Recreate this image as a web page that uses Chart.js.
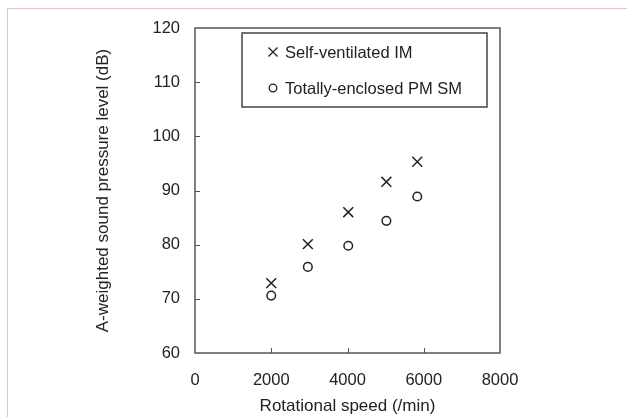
<!DOCTYPE html>
<html>
<head>
<meta charset="utf-8">
<script src="https://cdn.jsdelivr.net/npm/chart.js@4.4.0/dist/chart.umd.min.js"></script>
<style>
  html, body { margin: 0; padding: 0; overflow: hidden; background: #fff; }
  #frame { position: absolute; left: 7px; top: 8px; width: 640px; height: 430px; border: 1.5px solid #e6c2d0; }
  #chart { position: absolute; left: 0; top: 0; }
</style>
</head>
<body>
<div id="frame"></div>
<canvas id="chart" width="627" height="417"></canvas>
<script>
// rotational speed (/min) and sound pressure level (dB)
var speedIM = [2000, 2960, 4020, 5020, 5830];
var levelIM = [72.9, 80.1, 86.0, 91.6, 95.3];
var speedPM = [2000, 2960, 4020, 5020, 5830];
var levelPM = [70.6, 75.9, 79.8, 84.4, 88.9];
var seriesNames = ["Self-ventilated IM", "Totally-enclosed PM SM"];
var xTicks = [0, 2000, 4000, 6000, 8000];
var yTicks = [60, 70, 80, 90, 100, 110, 120];

var FONT = "'Liberation Sans', Arial, sans-serif";
var ink = "#222";

function toPoints(xs, ys) {
	var pts = [];
	for (var i = 0; i < xs.length; i++) {
		pts.push({ x : xs[i], y : ys[i] });
	}
	return pts;
}

// inward tick marks plus box border round the plot
var frameBox = {
	id : 'frameBox',
	afterDatasetsDraw : function(chart) {
		var ctx = chart.ctx;
		var a = chart.chartArea;
		var sx = chart.scales.x, sy = chart.scales.y;
		ctx.save();
		ctx.strokeStyle = "#555";
		ctx.lineWidth = 1.5;
		ctx.strokeRect(a.left, a.top, a.right - a.left, a.bottom - a.top);
		ctx.lineWidth = 1;
		ctx.beginPath();
		xTicks.slice(1, -1).forEach(function(v) {
			var px = Math.round(sx.getPixelForValue(v)) + 0.5;
			ctx.moveTo(px, a.bottom);
			ctx.lineTo(px, a.bottom - 5);
		});
		yTicks.slice(1, -1).forEach(function(v) {
			var py = Math.round(sy.getPixelForValue(v)) + 0.5;
			ctx.moveTo(a.left, py);
			ctx.lineTo(a.left + 5, py);
		});
		ctx.stroke();
		ctx.restore();
	}
};

// boxed legend inside the top right of the plot
var boxLegend = {
	id : 'boxLegend',
	afterDraw : function(chart) {
		var ctx = chart.ctx;
		var a = chart.chartArea;
		var left = a.left + 47, top = a.top + 5, right = a.right - 13, bottom = a.top + 79;
		ctx.save();
		ctx.strokeStyle = "#444";
		ctx.lineWidth = 1.5;
		ctx.strokeRect(left, top, right - left, bottom - top);
		ctx.font = "16.5px " + FONT;
		ctx.fillStyle = ink;
		ctx.textBaseline = "middle";
		var rows = [top + 19, top + 55];
		chart.data.datasets.forEach(function(ds, i) {
			var cx = left + 31, cy = rows[i];
			ctx.strokeStyle = ink;
			ctx.lineWidth = 1.3;
			ctx.beginPath();
			if (ds.pointStyle === 'crossRot') {
				ctx.moveTo(cx - 4.5, cy - 4.5); ctx.lineTo(cx + 4.5, cy + 4.5);
				ctx.moveTo(cx + 4.5, cy - 4.5); ctx.lineTo(cx - 4.5, cy + 4.5);
			} else {
				ctx.arc(cx, cy, 3.8, 0, Math.PI * 2);
			}
			ctx.stroke();
			ctx.fillText(ds.label, left + 43, cy + 1);
		});
		ctx.restore();
	}
};

var plainTick = function(value) { return String(value); };

var ctx = document.getElementById("chart");
var chart = new Chart(ctx, {
	type : 'scatter',
	data : {
		datasets : [ {
			label : seriesNames[0],
			data : toPoints(speedIM, levelIM),
			pointStyle : 'crossRot',
			pointRadius : 7,
			borderColor : ink,
			backgroundColor : ink,
			borderWidth : 1.5
		}, {
			label : seriesNames[1],
			data : toPoints(speedPM, levelPM),
			pointStyle : 'circle',
			pointRadius : 4.3,
			borderColor : ink,
			backgroundColor : "#fff",
			borderWidth : 1.5
		} ]
	},
	options : {
		responsive : false,
		animation : false,
		layout : {
			padding : { left : 90, top : 28, right : 127, bottom : 0 }
		},
		plugins : {
			legend : { display : false },
			tooltip : { enabled : false }
		},
		scales : {
			x : {
				type : 'linear',
				min : 0,
				max : 8000,
				afterBuildTicks : function(scale) {
					scale.ticks = xTicks.map(function(v) { return { value : v }; });
				},
				afterFit : function(scale) { scale.height = 64; },
				grid : { display : false, drawTicks : false },
				border : { display : false },
				ticks : {
					padding : 18,
					color : ink,
					font : { family : FONT, size : 16.5 },
					maxRotation : 0,
					callback : plainTick
				},
				title : {
					display : true,
					text : "Rotational speed (/min)",
					color : ink,
					font : { family : FONT, size : 17 },
					padding : { top : 0, bottom : 0 }
				}
			},
			y : {
				type : 'linear',
				min : 60,
				max : 120,
				afterBuildTicks : function(scale) {
					scale.ticks = yTicks.map(function(v) { return { value : v }; });
				},
				afterFit : function(scale) { scale.width = 105; },
				grid : { display : false, drawTicks : false },
				border : { display : false },
				ticks : {
					padding : 15,
					color : ink,
					font : { family : FONT, size : 16.5 },
					callback : plainTick
				},
				title : {
					display : true,
					text : "A-weighted sound pressure level (dB)",
					color : ink,
					font : { family : FONT, size : 17 },
					padding : { top : 3, bottom : 4 }
				}
			}
		}
	},
	plugins : [ frameBox, boxLegend ]
});
</script>
</body>
</html>
